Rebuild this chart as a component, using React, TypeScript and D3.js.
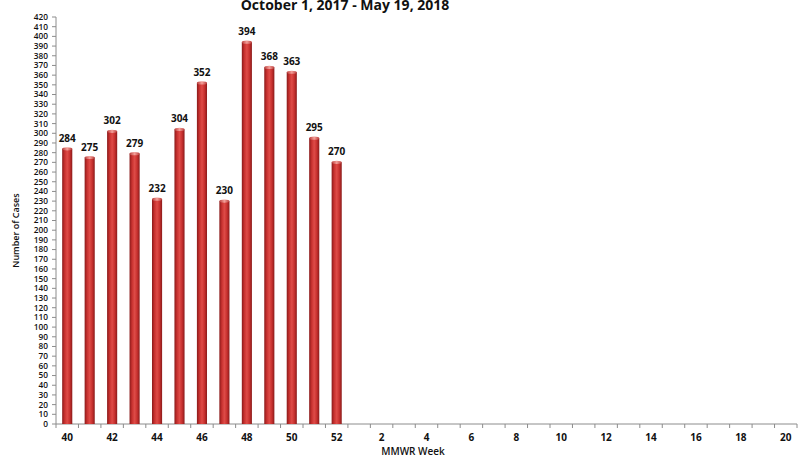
import React from "react";
import * as d3 from "d3";

const weeks = ["40","41","42","43","44","45","46","47","48","49","50","51","52","1","2","3","4","5","6","7","8","9","10","11","12","13","14","15","16","17","18","19","20"];
const cases: (number | null)[] = [284,275,302,279,232,304,352,230,394,368,363,295,270,null,null,null,null,null,null,null,null,null,null,null,null,null,null,null,null,null,null,null,null];
const xTickLabels = ["40","42","44","46","48","50","52","2","4","6","8","10","12","14","16","18","20"];
const yTicks = d3.range(0, 421, 10);
const title = "October 1, 2017 - May 19, 2018";
const yTitle = "Number of Cases";
const xTitle = "MMWR Week";

export default function App() {
  const W = 805, H = 455;
  const left = 56, right = 797, top = 17, bottom = 424;
  const x = d3.scaleBand<string>().domain(weeks).range([left, right]).paddingInner(0.55).paddingOuter(0.275);
  const xOuter = d3.scaleBand<string>().domain(weeks).range([left, right]);
  const y = d3.scaleLinear().domain([0, 420]).range([bottom, top]);
  const font = "'Open Sans', 'Noto Sans', sans-serif";
  const axisColor = "#8c8c8c";
  return (
    <svg width={W} height={H} style={{ position: "absolute", left: 0, top: 0, background: "#fff" }} fontFamily={font}>
      <defs>
        <linearGradient id="barGrad" x1="0" x2="1" y1="0" y2="0">
          <stop offset="0" stopColor="#8a1a1a" />
          <stop offset="0.25" stopColor="#c8312f" />
          <stop offset="0.5" stopColor="#de4b47" />
          <stop offset="0.75" stopColor="#c8312f" />
          <stop offset="1" stopColor="#8a1a1a" />
        </linearGradient>
        <linearGradient id="topGrad" x1="0" x2="1" y1="0" y2="0">
          <stop offset="0" stopColor="#b83a38" />
          <stop offset="0.5" stopColor="#f4a09a" />
          <stop offset="1" stopColor="#b83a38" />
        </linearGradient>
      </defs>
      <text x={345} y={10} textAnchor="middle" fontSize={14} fontWeight="bold" fill="#111">{title}</text>
      {/* y axis */}
      <line x1={left} x2={left} y1={top} y2={bottom} stroke={axisColor} />
      {yTicks.map(t => (
        <g key={t}>
          <line x1={left - 4} x2={left} y1={y(t)} y2={y(t)} stroke={axisColor} />
          <text x={left - 8} y={y(t)} dy="0.35em" textAnchor="end" fontSize={8.3} fontWeight={600} fill="#111">{t}</text>
        </g>
      ))}
      <text transform={`translate(19,${(top + bottom) / 2 + 10}) rotate(-90)`} textAnchor="middle" fontSize={9} fontWeight={600} fill="#111">{yTitle}</text>
      {/* x axis */}
      <line x1={left} x2={right} y1={bottom} y2={bottom} stroke={axisColor} />
      {weeks.map(w => (
        <line key={"t" + w} x1={(xOuter(w) as number)} x2={(xOuter(w) as number)} y1={bottom} y2={bottom + 4} stroke={axisColor} />
      ))}
      <line x1={right} x2={right} y1={bottom} y2={bottom + 4} stroke={axisColor} />
      {weeks.filter(w => xTickLabels.includes(w)).map(w => (
        <text key={"l" + w} x={(xOuter(w) as number) + xOuter.bandwidth() / 2} y={441} textAnchor="middle" fontSize={10} fontWeight="bold" fill="#111">{w}</text>
      ))}
      <text x={413} y={455} textAnchor="middle" fontSize={10} fontWeight={600} fill="#111">{xTitle}</text>
      {/* bars */}
      {weeks.map((w, i) => {
        const v = cases[i];
        if (v == null) return null;
        const bx = x(w) as number;
        const bw = x.bandwidth();
        return (
          <g key={"b" + w}>
            <rect x={bx} y={y(v)} width={bw} height={bottom - y(v)} fill="url(#barGrad)" />
            <ellipse cx={bx + bw / 2} cy={y(v)} rx={bw / 2} ry={1.6} fill="url(#topGrad)" />
            <text x={bx + bw / 2} y={y(v) - 7} textAnchor="middle" fontSize={10} fontWeight="bold" fill="#111">{v}</text>
          </g>
        );
      })}
    </svg>
  );
}
